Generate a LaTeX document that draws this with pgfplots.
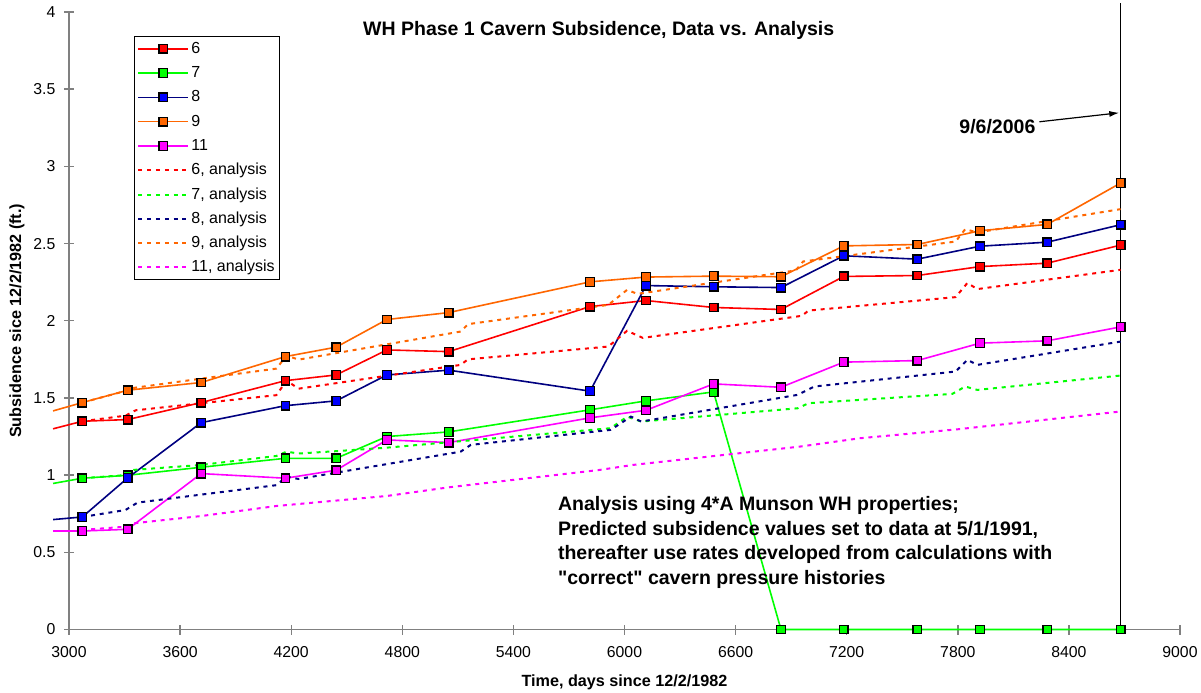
\documentclass[border=0pt]{standalone}
\usepackage{fontspec}
\setmainfont{Liberation Sans}[Ligatures=TeXOff]
\usepackage{pgfplots}
\pgfplotsset{compat=1.18}
\usetikzlibrary{arrows.meta}
\definecolor{c6}{HTML}{FF0000}
\definecolor{c7}{HTML}{00FF00}
\definecolor{c8l}{HTML}{000080}
\definecolor{c8}{HTML}{0000FF}
\definecolor{c9}{HTML}{FF6600}
\definecolor{c11}{HTML}{FF00FF}
\definecolor{axgray}{HTML}{808080}
\begin{document}
\begin{tikzpicture}
\useasboundingbox (0,0) rectangle (600.5pt,346pt);
\begin{axis}[
  at={(34.5pt,31.25pt)}, anchor=south west,
  scale only axis, width=555.5pt, height=308.75pt,
  xmin=3000, xmax=9000, ymin=0, ymax=4,
  axis lines=left, axis line style={-, draw=axgray, line width=0.8pt},
  xtick={3000,3600,...,9000}, ytick={0,0.5,...,4},
  tick align=center, major tick length=5pt, tick style={draw=axgray, line width=0.7pt},
  ticklabel style={font=\fontsize{7.9}{9}\selectfont},
  xticklabel style={yshift=-2.5pt},
  yticklabel style={xshift=-0.8pt},
  /pgf/number format/assume math mode=true,
  /pgf/number format/1000 sep={},
  xlabel={Time, days since 12/2/1982},
  ylabel={Subsidence sice 12/2/1982 (ft.)},
  label style={font=\bfseries\fontsize{8.1}{9.5}\selectfont},
  xlabel style={at={(axis description cs:0.5,-0.0850)}, anchor=center},
  ylabel style={at={(axis description cs:-0.0468,0.5)}, anchor=center},
  clip=false,
  legend cell align=left,
  legend style={at={(axis description cs:0.0585,0.961)}, anchor=north west, draw=black,
    inner xsep=1.5pt, inner ysep=1.4pt, row sep=2.65pt, font=\fontsize{8}{9}\selectfont,
    nodes={inner sep=1pt, text height=6pt, text depth=1.5pt}},
  legend image code/.code={\draw[mark repeat=2,mark phase=2,#1] plot coordinates {(0pt,0pt)(12.5pt,0pt)(25pt,0pt)};},
  data/.style={line width=0.8pt, mark=square*, mark size=2.15pt, mark options={solid, fill=#1, draw=black, line width=0.65pt}},
  ana/.style={line width=1pt, dash pattern=on 2pt off 2.4pt},
]
% date line 9/6/2006
\addplot[forget plot, black, line width=0.9pt] coordinates {(8679,0) (8679,4.06)};
% leading segments
\addplot[forget plot, c6, line width=0.8pt] coordinates {(2914,1.30) (3072,1.349)};
\addplot[forget plot, c7, line width=0.8pt] coordinates {(2914,0.946) (3072,0.980)};
\addplot[forget plot, c8l, line width=0.8pt] coordinates {(2914,0.712) (3072,0.729)};
\addplot[forget plot, c9, line width=0.8pt] coordinates {(2914,1.416) (3072,1.470)};
\addplot[forget plot, c11, line width=0.8pt] coordinates {(2914,0.638) (3072,0.638)};
% data
\addplot[c6, data=c6] coordinates {
(3072,1.349)(3317,1.360)(3714,1.470)(4169,1.612)(4443,1.649)(4717,1.811)(5051,1.800)(5814,2.092)
(6116,2.131)(6481,2.086)(6845,2.073)(7184,2.287)(7581,2.293)(7920,2.351)(8283,2.373)(8679,2.490)};
\addlegendentry{6}
\addplot[c7, data=c7] coordinates {
(3072,0.980)(3317,0.999)(3714,1.051)(4169,1.109)(4443,1.109)(4717,1.250)(5051,1.280)(5814,1.423)
(6116,1.481)(6481,1.539)(6845,0)(7184,0)(7581,0)(7920,0)(8283,0)(8679,0)};
\addlegendentry{7}
\addplot[c8l, data=c8] coordinates {
(3072,0.729)(3317,0.982)(3714,1.340)(4169,1.450)(4443,1.481)(4717,1.649)(5051,1.680)(5814,1.544)
(6116,2.228)(6481,2.220)(6845,2.215)(7184,2.421)(7581,2.399)(7920,2.483)(8283,2.509)(8679,2.622)};
\addlegendentry{8}
\addplot[c9, data=c9] coordinates {
(3072,1.470)(3317,1.550)(3714,1.600)(4169,1.768)(4443,1.829)(4717,2.008)(5051,2.053)(5814,2.252)
(6116,2.283)(6481,2.289)(6845,2.285)(7184,2.485)(7581,2.494)(7920,2.583)(8283,2.624)(8679,2.892)};
\addlegendentry{9}
\addplot[c11, data=c11] coordinates {
(3072,0.638)(3317,0.649)(3714,1.010)(4169,0.980)(4443,1.032)(4717,1.228)(5051,1.211)(5814,1.371)
(6116,1.420)(6481,1.591)(6845,1.569)(7184,1.732)(7581,1.742)(7920,1.855)(8283,1.870)(8679,1.960)};
\addlegendentry{11}
% analysis
\addplot[c6, ana] coordinates {
(3072,1.349)(3305,1.385)(3360,1.42)(4120,1.518)(4175,1.612)(4240,1.560)(5115,1.714)(5155,1.750)
(5913,1.833)(6014,1.935)(6099,1.889)(6958,2.032)(6994,2.066)(7788,2.153)(7852,2.245)(7905,2.205)(8679,2.33)};
\addlegendentry{6, analysis}
\addplot[c7, ana] coordinates {
(3072,0.980)(3305,1.00)(3350,1.034)(3714,1.066)(4120,1.124)(4175,1.152)(4240,1.14)(4440,1.155)
(4717,1.178)(5051,1.213)(5925,1.304)(6015,1.379)(6090,1.347)(6935,1.433)(6994,1.466)(7770,1.526)
(7840,1.574)(7905,1.552)(8679,1.645)};
\addlegendentry{7, analysis}
\addplot[c8l, ana] coordinates {
(3072,0.729)(3305,0.774)(3370,0.822)(4120,0.935)(4175,0.99)(4240,0.975)(5115,1.152)(5170,1.196)
(5925,1.293)(6035,1.379)(6090,1.347)(6935,1.520)(7025,1.574)(7788,1.671)(7852,1.747)(7905,1.714)(8679,1.865)};
\addlegendentry{8, analysis}
\addplot[c9, ana] coordinates {
(3072,1.47)(3305,1.545)(3350,1.565)(3714,1.625)(4120,1.69)(4175,1.775)(4240,1.748)(5115,1.930)
(5155,1.978)(5913,2.103)(6014,2.200)(6070,2.174)(6925,2.326)(6965,2.384)(7788,2.513)(7840,2.593)
(7905,2.572)(8679,2.723)};
\addlegendentry{9, analysis}
\addplot[c11, ana] coordinates {
(3072,0.645)(3305,0.666)(3350,0.688)(3714,0.735)(4120,0.800)(4717,0.865)(5051,0.921)(5868,1.034)
(6045,1.066)(6948,1.185)(7272,1.239)(7800,1.297)(8679,1.412)};
\addlegendentry{11, analysis}
% annotations
\node[anchor=base, font=\bfseries\fontsize{9.75}{11}\selectfont] at (axis cs:5861,3.847)
  {WH Phase 1 Cavern Subsidence, Data vs. Analysis};
\node[anchor=base, font=\bfseries\fontsize{9.75}{11}\selectfont] at (axis cs:8014,3.216) {9/6/2006};
\draw[-{Latex[length=5pt,width=3pt]}, line width=0.6pt] (axis cs:8241,3.289) -- (axis cs:8672,3.347);
\node[anchor=base west, align=left, inner sep=0pt, font=\bfseries\fontsize{9.75}{12.25}\selectfont]
  at (axis cs:5639,0.292) {Analysis using 4*A Munson WH properties;\\
  Predicted subsidence values set to data at 5/1/1991,\\
  thereafter use rates developed from calculations with\\
  "correct" cavern pressure histories};
\end{axis}
\end{tikzpicture}
\end{document}
